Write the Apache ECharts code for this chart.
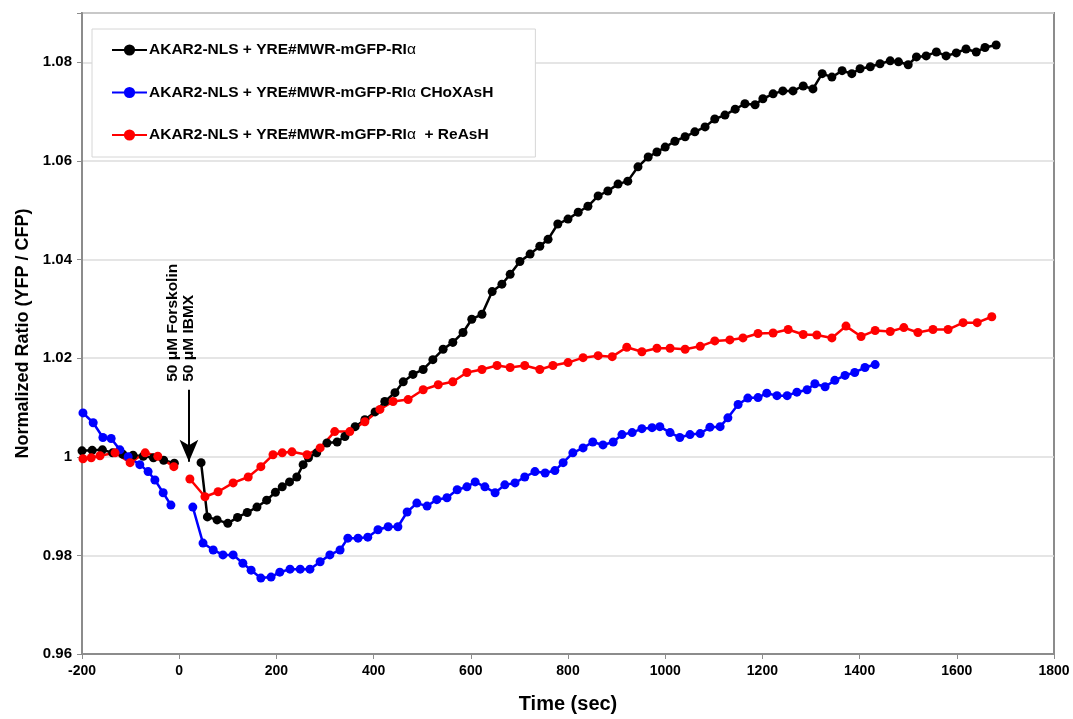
<!DOCTYPE html>
<html>
<head>
<meta charset="utf-8">
<script src="https://cdn.jsdelivr.net/npm/echarts@6/dist/echarts.min.js"></script>
<style>
  html, body { margin: 0; padding: 0; background: #fff; }
  #chart { width: 1073px; height: 719px; }
</style>
</head>
<body>
<div id="chart"></div>
<script>
// series names (legend)
var nameBlack = 'AKAR2-NLS + YRE#MWR-mGFP-RIα';
var nameBlue = 'AKAR2-NLS + YRE#MWR-mGFP-RIα CHoXAsH';
var nameRed = 'AKAR2-NLS + YRE#MWR-mGFP-RIα  + ReAsH';

// [time (sec), ratio] before stimulation
var blackPre = [[-200,1.0012],[-179,1.0013],[-158,1.0014],[-137,1.0008],[-116,1.0005],[-95,1.0003],[-74,1.0001],[-53,0.9998],[-32,0.9993],[-10,0.9987]];
// after stimulation
var blackPost = [[45,0.9988],[58,0.9878],[78,0.9872],[100,0.9865],[120,0.9877],[140,0.9887],[160,0.9898],[180,0.9912],[198,0.9928],
  [212,0.9939],[227,0.9949],[242,0.9959],[255,0.9984],[266,0.9998],[283,1.0008],[304,1.0028],[325,1.0030],[341,1.0041],[362,1.0061],
  [382,1.0075],[403,1.0091],[423,1.0112],[444,1.0130],[461,1.0152],[481,1.0167],[502,1.0177],[522,1.0197],[543,1.0218],[563,1.0232],
  [584,1.0252],[602,1.0279],[623,1.0289],[644,1.0335],[664,1.0350],[681,1.0370],[701,1.0396],[722,1.0411],[742,1.0427],[759,1.0441],
  [779,1.0472],[800,1.0482],[821,1.0496],[841,1.0508],[862,1.0529],[882,1.0539],[903,1.0553],[923,1.0559],[944,1.0588],[965,1.0608],
  [983,1.0618],[1000,1.0628],[1020,1.0640],[1041,1.0649],[1061,1.0659],[1082,1.0669],[1102,1.0685],[1123,1.0693],[1144,1.0705],
  [1164,1.0716],[1185,1.0714],[1201,1.0726],[1222,1.0736],[1242,1.0742],[1263,1.0742],[1284,1.0752],[1304,1.0746],[1323,1.0777],
  [1343,1.0770],[1364,1.0783],[1384,1.0777],[1401,1.0787],[1422,1.0791],[1442,1.0797],[1463,1.0803],[1480,1.0801],[1500,1.0795],
  [1517,1.0811],[1537,1.0813],[1558,1.0821],[1578,1.0813],[1599,1.0819],[1619,1.0827],[1640,1.0821],[1658,1.0830],[1681,1.0835]];

var bluePre = [[-198,1.0089],[-177,1.0069],[-157,1.0039],[-140,1.0037],[-122,1.0014],[-105,1.0000],[-81,0.9984],[-64,0.9970],
  [-50,0.9953],[-33,0.9927],[-17,0.9902]];
var bluePost = [[28,0.9898],[49,0.9825],[70,0.9811],[90,0.9801],[111,0.9801],[131,0.9784],[148,0.9770],[168,0.9754],[189,0.9756],
  [207,0.9766],[228,0.9772],[249,0.9772],[269,0.9772],[290,0.9787],[310,0.9801],[331,0.9811],[347,0.9835],[368,0.9835],[388,0.9837],
  [409,0.9852],[430,0.9858],[450,0.9858],[469,0.9888],[489,0.9906],[510,0.9900],[530,0.9913],[551,0.9917],[572,0.9933],[592,0.9939],
  [609,0.9949],[629,0.9939],[650,0.9927],[670,0.9943],[691,0.9947],[711,0.9959],[732,0.9970],[753,0.9967],[773,0.9972],[790,0.9988],
  [810,1.0008],[831,1.0018],[851,1.0030],[872,1.0024],[893,1.0030],[911,1.0045],[932,1.0049],[952,1.0057],[973,1.0059],[989,1.0061],
  [1010,1.0049],[1030,1.0039],[1051,1.0045],[1072,1.0047],[1092,1.0060],[1113,1.0061],[1129,1.0079],[1150,1.0106],[1170,1.0119],
  [1191,1.0120],[1209,1.0129],[1230,1.0124],[1251,1.0124],[1271,1.0131],[1292,1.0136],[1308,1.0148],[1329,1.0142],[1349,1.0155],
  [1370,1.0165],[1390,1.0171],[1411,1.0181],[1432,1.0187]];

var redPre = [[-198,0.9996],[-181,0.9998],[-163,1.0002],[-132,1.0008],[-101,0.9988],[-70,1.0008],[-44,1.0001],[-11,0.9980]];
var redPost = [[22,0.9955],[53,0.9919],[80,0.9929],[111,0.9947],[142,0.9959],[168,0.9980],[193,1.0004],[212,1.0008],[232,1.0010],
  [263,1.0004],[290,1.0018],[320,1.0051],[351,1.0051],[382,1.0071],[413,1.0096],[440,1.0112],[471,1.0116],[502,1.0136],[533,1.0146],
  [563,1.0152],[592,1.0171],[623,1.0177],[654,1.0185],[681,1.0181],[711,1.0185],[742,1.0177],[769,1.0185],[800,1.0191],[831,1.0201],
  [862,1.0205],[891,1.0203],[921,1.0222],[952,1.0213],[983,1.0220],[1010,1.0220],[1041,1.0218],[1072,1.0224],[1102,1.0235],
  [1133,1.0237],[1160,1.0241],[1191,1.0250],[1222,1.0251],[1253,1.0258],[1284,1.0248],[1312,1.0247],[1343,1.0241],[1372,1.0265],
  [1403,1.0244],[1432,1.0256],[1463,1.0254],[1491,1.0262],[1520,1.0252],[1551,1.0258],[1582,1.0258],[1613,1.0272],[1642,1.0272],
  [1672,1.0284]];

// stimulus arrow (time, ratio from -> to) and its labels
var stimArrow = [[20, 1.0136], [20, 0.9990]];
var stimText = ['50 μM Forskolin', '50 μM IBMX'];

var font = "'Liberation Sans', Arial, sans-serif";
var chart = echarts.init(document.getElementById('chart'));

function lineSeries(name, color, data, extra) {
  var s = {
    name: name,
    type: 'line',
    data: data,
    symbol: 'circle',
    symbolSize: 9,
    showAllSymbol: true,
    color: color,
    itemStyle: { color: color },
    lineStyle: { color: color, width: 2.5 },
    emphasis: { disabled: true },
    animation: false
  };
  return Object.assign(s, extra || {});
}

var option = {
  animation: false,
  backgroundColor: '#fff',
  grid: {
    left: 82, right: 19, top: 13, bottom: 64,
    show: true, borderColor: '#8c8c8c', borderWidth: 2, backgroundColor: '#fff'
  },
  legend: {
    orient: 'vertical',
    left: 92, top: 29,
    padding: [13, 42, 14, 19],
    itemGap: 26.5,
    itemWidth: 35,
    itemHeight: 14,
    borderColor: '#d6d6d6',
    borderWidth: 1,
    backgroundColor: '#fff',
    data: [nameBlack, nameBlue, nameRed],
    formatter: function (n) { return n.replace('α', '{a|α}'); },
    textStyle: {
      fontFamily: font, fontWeight: 'bold', fontSize: 15.5, color: '#000', padding: [0, 0, 0, -3],
      rich: { a: { fontFamily: font, fontWeight: 'normal', fontSize: 15.5, color: '#000' } }
    }
  },
  xAxis: {
    type: 'value',
    min: -200, max: 1800, interval: 200,
    name: 'Time (sec)',
    nameLocation: 'middle',
    nameGap: 40,
    nameTextStyle: { fontFamily: font, fontWeight: 'bold', fontSize: 20, color: '#000' },
    axisLine: { show: true, onZero: false, lineStyle: { color: '#8c8c8c', width: 2 } },
    axisTick: { show: true, length: 5, lineStyle: { color: '#8c8c8c' } },
    axisLabel: {
      fontFamily: font, fontWeight: 'bold', fontSize: 14, color: '#000', margin: 10,
      formatter: function (v) { return String(v); }
    },
    splitLine: { show: false }
  },
  yAxis: {
    type: 'value',
    min: 0.96, max: 1.09, interval: 0.02,
    name: 'Normalized Ratio (YFP / CFP)',
    nameLocation: 'middle',
    nameGap: 50,
    nameRotate: 90,
    nameTextStyle: { fontFamily: font, fontWeight: 'bold', fontSize: 18, color: '#000' },
    axisLine: { show: true, onZero: false, lineStyle: { color: '#8c8c8c', width: 2 } },
    axisTick: { show: true, length: 5, lineStyle: { color: '#8c8c8c' } },
    axisLabel: {
      fontFamily: font, fontWeight: 'bold', fontSize: 15, color: '#000', margin: 10,
      formatter: function (v) {
        if (Math.abs(v - 1.09) < 1e-6) return '';
        return String(+v.toFixed(2));
      }
    },
    splitLine: { show: true, lineStyle: { color: '#dcdcdc', width: 1.5 } }
  },
  series: [
    lineSeries(nameBlack, '#000000', blackPre),
    lineSeries(nameBlack, '#000000', blackPost, {
      markLine: {
        silent: true,
        animation: false,
        symbol: ['none', 'arrow'],
        symbolSize: [14, 22],
        label: { show: false },
        lineStyle: { color: '#000', width: 2, type: 'solid' },
        data: [[{ coord: stimArrow[0] }, { coord: stimArrow[1] }]]
      }
    }),
    lineSeries(nameBlue, '#0000ff', bluePre),
    lineSeries(nameBlue, '#0000ff', bluePost),
    lineSeries(nameRed, '#ff0000', redPre),
    lineSeries(nameRed, '#ff0000', redPost)
  ]
};

chart.setOption(option);

// rotated labels over the arrow
var p1 = chart.convertToPixel({ gridIndex: 0 }, [-14, 1.0152]);
var p2 = chart.convertToPixel({ gridIndex: 0 }, [19, 1.0152]);
chart.setOption({
  graphic: [
    {
      type: 'text', x: p1[0], y: p1[1], rotation: Math.PI / 2, silent: true,
      style: { text: stimText[0], font: 'bold 15.5px ' + font, fill: '#000', align: 'left', verticalAlign: 'middle' }
    },
    {
      type: 'text', x: p2[0], y: p2[1], rotation: Math.PI / 2, silent: true,
      style: { text: stimText[1], font: 'bold 15.5px ' + font, fill: '#000', align: 'left', verticalAlign: 'middle' }
    }
  ]
});
</script>
</body>
</html>
